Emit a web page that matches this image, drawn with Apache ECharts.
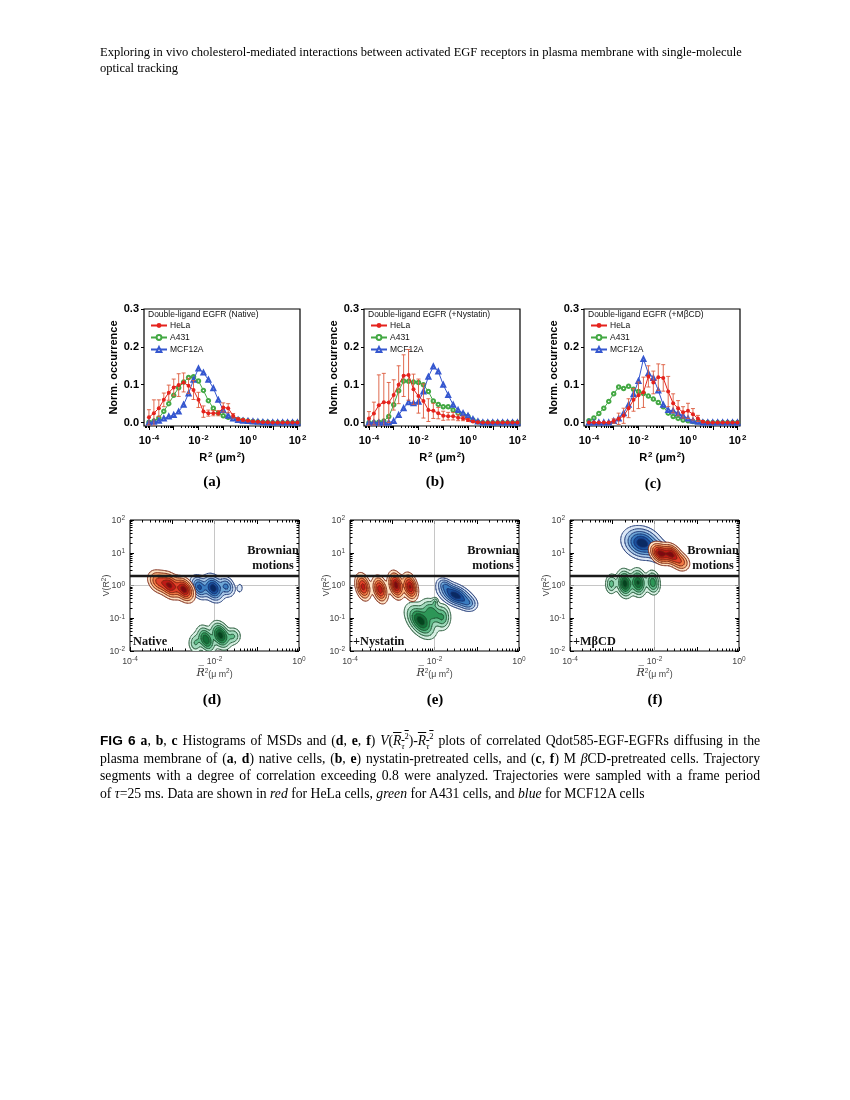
<!DOCTYPE html>
<html>
<head>
<meta charset="utf-8">
<title>FIG 6</title>
<script src="https://cdn.jsdelivr.net/npm/echarts@6.0.0/dist/echarts.min.js"></script>
<style>
  html, body { margin: 0; padding: 0; background: #fff; }
  #page { position: relative; width: 850px; height: 1100px; overflow: hidden; }
  #chart { position: absolute; left: 0; top: 0; width: 850px; height: 1100px; }
  .hdr { position: absolute; left: 100px; top: 44px; font: 12.5px/16px 'Liberation Serif', serif; color: #000; white-space: nowrap; }
  .cap { position: absolute; left: 100px; top: 732px; width: 660px; font: 13.7px/17.6px 'Liberation Serif', serif; color: #000; }
  .cap div { white-space: nowrap; }
  .cap .j { text-align: justify; text-align-last: justify; }
  .cap .l { text-align: left; }
  .ov { text-decoration: overline; }
  .fig { font-family: 'Liberation Sans', sans-serif; font-weight: bold; }
  .cap sub, .cap sup { font-size: 8.5px; line-height: 0; }
</style>
</head>
<body>
<div id="page">
  <div id="chart"></div>
  <div class="hdr">Exploring in vivo cholesterol-mediated interactions between activated EGF receptors in plasma membrane with single-molecule<br>optical tracking</div>
  <div class="cap">
    <div class="j"><span class="fig">FIG 6</span> <b>a</b>, <b>b</b>, <b>c</b> Histograms of MSDs and (<b>d</b>, <b>e</b>, <b>f</b>) <i>V</i>(<span class="ov"><i>R</i><sub><i>τ</i></sub><sup>2</sup></span>)-<span class="ov"><i>R</i><sub><i>τ</i></sub><sup>2</sup></span> plots of correlated Qdot585-EGF-EGFRs diffusing in the</div>
    <div class="j">plasma membrane of (<b>a</b>, <b>d</b>) native cells, (<b>b</b>, <b>e</b>) nystatin-pretreated cells, and (<b>c</b>, <b>f</b>) M <i>β</i>CD-pretreated cells. Trajectory</div>
    <div class="j">segments with a degree of correlation exceeding 0.8 were analyzed. Trajectories were sampled with a frame period</div>
    <div class="l">of <i>τ</i>=25 ms. Data are shown in <i>red</i> for HeLa cells, <i>green</i> for A431 cells, and <i>blue</i> for MCF12A cells</div>
  </div>
</div>
<script>
// log10 of R² (µm²) at the histogram bins
var binLogR2 = [-4.0, -3.8, -3.6, -3.4, -3.2, -3.0, -2.8, -2.6, -2.4, -2.2, -2.0, -1.8, -1.6, -1.4, -1.2, -1.0,
  -0.8, -0.6, -0.4, -0.2, 0.0, 0.2, 0.4, 0.6, 0.8, 1.0, 1.2, 1.4, 1.6, 1.8, 2.0];

// (a) native
var helaNative = [0.014, 0.025, 0.038, 0.06, 0.079, 0.093, 0.099, 0.106, 0.097, 0.086, 0.06, 0.029, 0.025, 0.025, 0.025, 0.04,
  0.038, 0.018, 0.009, 0.007, 0.005, 0.003, 0.002, 0.001, 0.001, 0, 0, 0, 0, 0, 0];
var helaNativeErr = [0.02, 0.035, 0.022, 0.018, 0.02, 0.022, 0.03, 0.025, 0.02, 0.025, 0.02, 0.015, 0.008, 0.007, 0.007, 0.012,
  0.012, 0.006, 0.004, 0.003, 0.002, 0.002, 0.001, 0.001, 0, 0, 0, 0, 0, 0, 0];
var a431Native = [0.001, 0.004, 0.012, 0.03, 0.05, 0.072, 0.092, 0.107, 0.119, 0.121, 0.11, 0.085, 0.058, 0.038, 0.025, 0.018,
  0.014, 0.011, 0.008, 0.006, 0.004, 0.003, 0.002, 0.001, 0.001, 0, 0, 0, 0, 0, 0];
var mcfNative = [0, 0.002, 0.005, 0.011, 0.016, 0.02, 0.029, 0.047, 0.077, 0.113, 0.143, 0.132, 0.113, 0.091, 0.06, 0.033,
  0.018, 0.011, 0.007, 0.005, 0.004, 0.003, 0.002, 0.001, 0, 0, 0, 0, 0, 0, 0];

// (b) nystatin
var helaNystatin = [0.011, 0.024, 0.046, 0.054, 0.053, 0.073, 0.1, 0.124, 0.126, 0.088, 0.07, 0.057, 0.033, 0.031, 0.025, 0.018,
  0.017, 0.017, 0.013, 0.011, 0.007, 0.003, 0.001, 0, 0, 0, 0, 0, 0, 0, 0];
var helaNystatinErr = [0.018, 0.03, 0.08, 0.076, 0.053, 0.04, 0.05, 0.055, 0.067, 0.04, 0.045, 0.045, 0.03, 0.02, 0.015, 0.012,
  0.01, 0.01, 0.008, 0.006, 0.004, 0.002, 0.001, 0, 0, 0, 0, 0, 0, 0, 0];
var a431Nystatin = [0, 0, 0.001, 0.004, 0.016, 0.047, 0.084, 0.11, 0.109, 0.107, 0.106, 0.1, 0.082, 0.057, 0.048, 0.042,
  0.042, 0.033, 0.025, 0.022, 0.016, 0.007, 0.002, 0, 0, 0, 0, 0, 0, 0, 0];
var mcfNystatin = [0, 0, 0, 0, 0, 0.004, 0.02, 0.038, 0.054, 0.051, 0.055, 0.082, 0.121, 0.148, 0.135, 0.1,
  0.073, 0.047, 0.033, 0.025, 0.018, 0.009, 0.003, 0, 0, 0, 0, 0, 0, 0, 0];

// (c) MβCD
var helaMbcd = [0, 0, 0, 0, 0, 0.004, 0.01, 0.018, 0.038, 0.06, 0.072, 0.08, 0.122, 0.106, 0.12, 0.118,
  0.082, 0.051, 0.038, 0.027, 0.031, 0.022, 0.011, 0.002, 0, 0, 0, 0, 0, 0, 0];
var helaMbcdErr = [0, 0, 0, 0, 0, 0.006, 0.015, 0.02, 0.025, 0.03, 0.035, 0.04, 0.028, 0.03, 0.035, 0.035,
  0.04, 0.025, 0.02, 0.015, 0.02, 0.015, 0.008, 0.002, 0, 0, 0, 0, 0, 0, 0];
var a431Mbcd = [0.005, 0.012, 0.024, 0.038, 0.056, 0.076, 0.094, 0.09, 0.096, 0.088, 0.082, 0.077, 0.07, 0.062, 0.053, 0.042,
  0.025, 0.016, 0.011, 0.007, 0.005, 0.003, 0.002, 0.001, 0, 0, 0, 0, 0, 0, 0];
var mcfMbcd = [0, 0, 0, 0, 0, 0.004, 0.011, 0.025, 0.047, 0.075, 0.11, 0.168, 0.13, 0.118, 0.085, 0.047,
  0.033, 0.031, 0.025, 0.018, 0.011, 0.005, 0.002, 0, 0, 0, 0, 0, 0, 0, 0];

var histXLabels = [-4, -2, 0, 2];          // decades labelled on histogram x axes
var histYLabels = [0, 0.1, 0.2, 0.3];
var contXLabels = [-4, -2, 0];             // decades labelled on V(R²)-R² plots
var contYLabels = [-2, -1, 0, 1, 2];
var brownianV = 2;                         // V(R²) above which motion is Brownian
var contourLevels = [0.05, 0.14, 0.28, 0.45, 0.65, 0.85];   // fraction of peak density

// density lobes: [log10 R², log10 V(R²), spread x, spread y, tilt deg, weight]
var helaNativeLobes = [[-3.33, 0.12, 0.11, 0.17, 20, 0.5], [-3.06, 0.0, 0.11, 0.19, 20, 0.9], [-2.72, -0.12, 0.10, 0.18, 20, 1.0]];
var mcfNativeLobes = [[-2.36, -0.05, 0.09, 0.17, 15, 0.7], [-2.03, -0.08, 0.11, 0.19, 15, 1.0], [-1.72, -0.03, 0.09, 0.15, 15, 0.5], [-1.40, -0.08, 0.05, 0.10, 0, 0.09]];
var a431NativeLobes = [[-2.45, -1.75, 0.08, 0.15, 0, 0.3], [-2.20, -1.65, 0.09, 0.19, 15, 0.85], [-1.86, -1.52, 0.10, 0.19, 15, 1.0], [-1.56, -1.55, 0.09, 0.13, 0, 0.3]];

var helaNystatinLobes = [[-3.69, -0.04, 0.08, 0.19, 10, 0.75], [-3.29, -0.12, 0.08, 0.19, 10, 0.8], [-2.91, 0.01, 0.08, 0.19, 10, 1.0], [-2.58, -0.04, 0.08, 0.19, 10, 0.9]];
var a431NystatinLobes = [[-2.33, -1.08, 0.13, 0.25, 25, 1.0], [-2.06, -0.82, 0.12, 0.2, 20, 0.6], [-1.80, -0.97, 0.09, 0.19, 0, 0.4], [-1.99, -0.50, 0.04, 0.07, 0, 0.25]];
var mcfNystatinLobes = [[-1.50, -0.30, 0.13, 0.22, 50, 1.0], [-1.75, 0.0, 0.08, 0.12, 30, 0.35], [-1.20, -0.55, 0.10, 0.12, 30, 0.3]];

var a431MbcdLobes = [[-3.02, 0.05, 0.07, 0.15, 0, 0.35], [-2.70, 0.06, 0.09, 0.19, 5, 1.0], [-2.39, 0.09, 0.09, 0.19, 5, 0.9], [-2.04, 0.09, 0.08, 0.17, 5, 0.6]];
var mcfMbcdLobes = [[-2.30, 1.30, 0.19, 0.23, 35, 1.0], [-1.88, 1.02, 0.12, 0.17, 30, 0.8]];
var helaMbcdLobes = [[-1.87, 0.98, 0.10, 0.16, 25, 1.0], [-1.60, 0.95, 0.10, 0.16, 25, 0.95], [-1.38, 0.72, 0.10, 0.14, 20, 0.4]];

var SANS = 'Liberation Sans', SERIF = 'Liberation Serif';
var RED = '#e5231d', GREEN = '#43a843', BLUE = '#3557cf', ERR = '#dc5a3c';
var redFill = ['#fde0c2', '#f9b07a', '#f27a45', '#e2432a', '#bf1a17', '#7e0810'];
var blueFill = ['#dce8f6', '#a9c9e8', '#6ea6d6', '#3a7cc0', '#1a519d', '#0a2a63'];
var greenFill = ['#d6efe2', '#a2dabd', '#62bd8b', '#2d9657', '#137139', '#04441e'];

var histRich = {
  b: {fontSize: 11, fontWeight: 'bold', fontFamily: SANS, color: '#000', lineHeight: 12, verticalAlign: 'bottom'},
  s: {fontSize: 8, fontWeight: 'bold', fontFamily: SANS, color: '#000', lineHeight: 8, verticalAlign: 'top', padding: [0, 0, 5, 1]}
};
var contRich = {
  b: {fontSize: 8.8, fontFamily: SANS, color: '#444', lineHeight: 10, verticalAlign: 'bottom'},
  s: {fontSize: 6.5, fontFamily: SANS, color: '#444', lineHeight: 7, verticalAlign: 'top', padding: [0, 0, 4, 0]},
  r: {fontSize: 11, fontStyle: 'italic', fontFamily: 'DejaVu Serif', color: '#333', lineHeight: 11, verticalAlign: 'bottom'}
};

function decadeTicks(lo, hi) {
  var out = [];
  for (var d = Math.ceil(lo); d <= Math.floor(hi); d++) out.push(d);
  return out;
}
function minorTicks(lo, hi) {
  var out = [];
  for (var d = Math.floor(lo); d < Math.ceil(hi); d++) {
    for (var k = 2; k <= 9; k++) {
      var v = d + Math.log10(k);
      if (v > lo && v < hi) out.push(v);
    }
  }
  return out;
}
function powLabel(v) {
  return '{b|10}{s|' + Math.round(v) + '}';
}
function edgeAxis(g, pos, lo, hi, ticks, len, inside, extra) {
  var a = {
    gridIndex: g, type: 'value', position: pos, min: lo, max: hi,
    axisLine: {show: false, onZero: false},
    axisTick: {show: true, inside: inside, length: len, customValues: ticks, lineStyle: {color: '#000', width: 1}},
    axisLabel: {show: false},
    splitLine: {show: false}
  };
  for (var k in extra) a[k] = extra[k];
  return a;
}

var grid = [], xAxis = [], yAxis = [], series = [], legend = [], graphic = [];

function addHist(p, hela, err, a431, mcf, tag) {
  var left = 144 + 220 * p;
  var g = grid.length;
  grid.push({left: left, top: 309, width: 156, height: 117, show: true, borderColor: '#000', borderWidth: 1.2});
  var xi = xAxis.length;
  xAxis.push(edgeAxis(g, 'bottom', -4.2, 2.1, decadeTicks(-4.2, 2.1), 4, false, {
    axisLabel: {show: true, customValues: histXLabels, margin: 8, formatter: powLabel, rich: histRich},
    name: '{b|R}{s|2}{b| (μm}{s|2}{b|)}', nameLocation: 'middle', nameGap: 25,
    nameTextStyle: {fontSize: 11, fontWeight: 'bold', fontFamily: SANS, color: '#000', rich: histRich}
  }));
  xAxis.push(edgeAxis(g, 'bottom', -4.2, 2.1, minorTicks(-4.2, 2.1), 2, false));
  var yi = yAxis.length;
  yAxis.push(edgeAxis(g, 'left', -0.009, 0.3, histYLabels, 3, false, {
    axisLabel: {show: true, customValues: histYLabels, margin: 5, formatter: function (v) { return v.toFixed(1); },
      fontSize: 11, fontWeight: 'bold', fontFamily: SANS, color: '#000'},
    name: 'Norm. occurrence', nameLocation: 'middle', nameGap: 25,
    nameTextStyle: {fontSize: 11, fontWeight: 'bold', fontFamily: SANS, color: '#000'}
  }));
  function pts(vals) { return binLogR2.map(function (x, i) { return [x, vals[i]]; }); }
  series.push({type: 'line', name: 'A431', xAxisIndex: xi, yAxisIndex: yi, z: 2, data: pts(a431),
    symbol: 'emptyCircle', symbolSize: 3.5, lineStyle: {color: GREEN, width: 1}, itemStyle: {color: GREEN, borderWidth: 0.8}});
  series.push({type: 'line', name: 'MCF12A', xAxisIndex: xi, yAxisIndex: yi, z: 3, data: pts(mcf),
    symbol: 'emptyTriangle', symbolSize: 4, lineStyle: {color: BLUE, width: 1}, itemStyle: {color: BLUE, borderWidth: 0.8}});
  series.push({type: 'custom', name: 'HeLa s.d.', xAxisIndex: xi, yAxisIndex: yi, z: 4, clip: true,
    data: binLogR2.map(function (x, i) { return [x, hela[i], err[i]]; }),
    renderItem: function (params, api) {
      var e = api.value(2);
      if (!e) return null;
      var x = api.value(0), y = api.value(1);
      var a = api.coord([x, y + e]), b = api.coord([x, y - e]);
      var st = {stroke: ERR, lineWidth: 0.9};
      return {type: 'group', children: [
        {type: 'line', shape: {x1: a[0], y1: a[1], x2: b[0], y2: b[1]}, style: st},
        {type: 'line', shape: {x1: a[0] - 2, y1: a[1], x2: a[0] + 2, y2: a[1]}, style: st},
        {type: 'line', shape: {x1: b[0] - 2, y1: b[1], x2: b[0] + 2, y2: b[1]}, style: st}
      ]};
    }});
  series.push({type: 'line', name: 'HeLa', xAxisIndex: xi, yAxisIndex: yi, z: 5, data: pts(hela),
    symbol: 'circle', symbolSize: 4, lineStyle: {color: RED, width: 1}, itemStyle: {color: RED}});
  legend.push({left: 150 + 220 * p, top: 321, orient: 'vertical', itemGap: 3, itemWidth: 16, itemHeight: 6,
    padding: 0, selectedMode: false, data: ['HeLa', 'A431', 'MCF12A'],
    textStyle: {fontSize: 8.5, fontFamily: SANS, color: '#111', padding: [0, 0, 0, -2]}});
  graphic.push({type: 'text', x: left + 4, y: 315, z: 20, style: {text: 'Double-ligand EGFR ' + tag,
    fontSize: 8.5, fontFamily: SANS, fill: '#111', verticalAlign: 'middle', textVerticalAlign: 'middle'}});
}

// filled contours of the summed lobe density (marching triangles), drawn once per family
function densityRender(fills, edge, blend) {
  function fmt(p) { return p[0].toFixed(2) + ' ' + p[1].toFixed(2); }
  return function (params, api) {
    if (params.dataIndexInside !== 0) return null;
    var lobes = [];
    for (var i = 0; i < params.dataInsideLength; i++) {
      var row = [];
      for (var d = 0; d < 6; d++) row.push(api.value(d, i));
      lobes.push(row);
    }
    var x0 = Infinity, x1 = -Infinity, y0 = Infinity, y1 = -Infinity;
    lobes.forEach(function (L) {
      var r = 3.3 * Math.max(L[2], L[3]);
      x0 = Math.min(x0, L[0] - r); x1 = Math.max(x1, L[0] + r);
      y0 = Math.min(y0, L[1] - r); y1 = Math.max(y1, L[1] + r);
    });
    x0 = Math.max(x0, -4); x1 = Math.min(x1, 0); y0 = Math.max(y0, -2); y1 = Math.min(y1, 2);
    var dx = 0.033, dy = 0.043;
    var nx = Math.ceil((x1 - x0) / dx), ny = Math.ceil((y1 - y0) / dy), W = nx + 1;
    var val = [], pos = [], vmax = 0;
    for (var j = 0; j <= ny; j++) {
      for (var i2 = 0; i2 <= nx; i2++) {
        var x = x0 + i2 * dx, y = y0 + j * dy, f = 0;
        for (var m = 0; m < lobes.length; m++) {
          var L = lobes[m], a = L[4] * Math.PI / 180, ex = x - L[0], ey = y - L[1];
          var u = (ex * Math.cos(a) + ey * Math.sin(a)) / L[2];
          var v = (-ex * Math.sin(a) + ey * Math.cos(a)) / L[3];
          f += L[5] * Math.exp(-0.5 * (u * u + v * v));
        }
        val.push(f);
        pos.push(api.coord([x, y]));
        if (f > vmax) vmax = f;
      }
    }
    var fillD = contourLevels.map(function () { return []; });
    var lineD = contourLevels.map(function () { return []; });
    function tri(ia, ib, ic) {
      var vs = [val[ia], val[ib], val[ic]], ps = [pos[ia], pos[ib], pos[ic]];
      var hi = Math.max(vs[0], vs[1], vs[2]);
      for (var k = 0; k < contourLevels.length; k++) {
        var lev = contourLevels[k] * vmax;
        if (hi < lev) break;
        var poly = [], cut = [];
        for (var e = 0; e < 3; e++) {
          var pa = ps[e], pb = ps[(e + 1) % 3], va = vs[e], vb = vs[(e + 1) % 3];
          if (va >= lev) poly.push(pa);
          if ((va >= lev) !== (vb >= lev)) {
            var t = (lev - va) / (vb - va);
            var q = [pa[0] + t * (pb[0] - pa[0]), pa[1] + t * (pb[1] - pa[1])];
            poly.push(q);
            cut.push(q);
          }
        }
        if (poly.length >= 3) fillD[k].push('M' + poly.map(fmt).join('L') + 'Z');
        if (cut.length === 2) lineD[k].push('M' + fmt(cut[0]) + 'L' + fmt(cut[1]));
      }
    }
    for (var jj = 0; jj < ny; jj++) {
      for (var ii = 0; ii < nx; ii++) {
        var p00 = jj * W + ii, p10 = p00 + 1, p01 = p00 + W, p11 = p01 + 1;
        tri(p00, p10, p11);
        tri(p00, p11, p01);
      }
    }
    var kids = [];
    for (var k = 0; k < contourLevels.length; k++) {
      if (fillD[k].length) {
        kids.push({type: 'path', shape: {pathData: fillD[k].join('')},
          style: {fill: fills[k], stroke: null, blend: blend}});
      }
    }
    for (var k2 = 0; k2 < contourLevels.length; k2++) {
      if (lineD[k2].length) {
        kids.push({type: 'path', shape: {pathData: lineD[k2].join('')},
          style: {fill: null, stroke: edge, lineWidth: 0.6, lineCap: 'round', opacity: 0.85, blend: blend}});
      }
    }
    return {type: 'group', children: kids};
  };
}

function addContour(p, red, green, blue, label, overlap) {
  var left = 130 + 220 * p;
  var g = grid.length;
  grid.push({left: left, top: 520, width: 169, height: 131, show: true, borderColor: '#000', borderWidth: 1});
  var xi = xAxis.length;
  xAxis.push(edgeAxis(g, 'bottom', -4, 0, decadeTicks(-4, 0), 4, true, {
    axisLabel: {show: true, customValues: contXLabels, margin: 5, formatter: powLabel, rich: contRich},
    name: '{r|R\u0305}{s|2}{b|(μ m}{s|2}{b|)}', nameLocation: 'middle', nameGap: 14,
    nameTextStyle: {fontSize: 9.5, fontFamily: SANS, color: '#444', rich: contRich}
  }));
  xAxis.push(edgeAxis(g, 'bottom', -4, 0, minorTicks(-4, 0), 2.5, true));
  xAxis.push(edgeAxis(g, 'top', -4, 0, decadeTicks(-4, 0), 4, true));
  xAxis.push(edgeAxis(g, 'top', -4, 0, minorTicks(-4, 0), 2.5, true));
  var yi = yAxis.length;
  yAxis.push(edgeAxis(g, 'left', -2, 2, decadeTicks(-2, 2), 4, true, {
    axisLabel: {show: true, customValues: contYLabels, margin: 5, formatter: powLabel, rich: contRich},
    name: '{b|V(R}{s|2}{b|)}', nameLocation: 'middle', nameGap: 19, nameMoveOverlap: false,
    nameTextStyle: {fontSize: 9.5, fontFamily: SANS, color: '#444', rich: contRich}
  }));
  yAxis.push(edgeAxis(g, 'left', -2, 2, minorTicks(-2, 2), 2.5, true));
  yAxis.push(edgeAxis(g, 'right', -2, 2, decadeTicks(-2, 2), 4, true));
  yAxis.push(edgeAxis(g, 'right', -2, 2, minorTicks(-2, 2), 2.5, true));

  var fams = [
    {name: 'MCF12A', lobes: blue, fills: blueFill, edge: '#16306e', z: 3, blend: null},
    {name: 'A431', lobes: green, fills: greenFill, edge: '#1b5230', z: 3, blend: null},
    {name: 'HeLa', lobes: red, fills: redFill, edge: '#7a2410', z: 4, blend: overlap ? 'multiply' : null}
  ];
  fams.forEach(function (f, i) {
    var s = {type: 'custom', name: f.name + ' density', xAxisIndex: xi, yAxisIndex: yi, z: f.z, clip: true,
      data: f.lobes, renderItem: densityRender(f.fills, f.edge, f.blend)};
    if (i === 0) {
      s.markLine = {silent: true, z: 1, symbol: ['none', 'none'], label: {show: false},
        lineStyle: {color: '#b8b8b8', width: 0.8, type: 'solid'}, data: [{xAxis: -2}, {yAxis: 0}]};
    }
    if (i === 2) {
      s.markLine = {silent: true, z: 8, symbol: ['none', 'none'], label: {show: false},
        lineStyle: {color: '#1a1a1a', width: 2.3, type: 'solid'}, data: [{yAxis: Math.log10(brownianV)}]};
    }
    series.push(s);
  });

  graphic.push({type: 'text', x: 273 + 220 * p, y: 543, z: 20, style: {text: 'Brownian\nmotions',
    fontSize: 12.3, fontWeight: 'bold', fontFamily: SERIF, fill: '#111', lineHeight: 15,
    align: 'center', textAlign: 'center', verticalAlign: 'top', textVerticalAlign: 'top'}});
  graphic.push({type: 'text', x: left + 3, y: 642, z: 20, style: {text: label,
    fontSize: 12.3, fontWeight: 'bold', fontFamily: SERIF, fill: '#111',
    verticalAlign: 'middle', textVerticalAlign: 'middle'}});
}

addHist(0, helaNative, helaNativeErr, a431Native, mcfNative, '(Native)');
addHist(1, helaNystatin, helaNystatinErr, a431Nystatin, mcfNystatin, '(+Nystatin)');
addHist(2, helaMbcd, helaMbcdErr, a431Mbcd, mcfMbcd, '(+MβCD)');
addContour(0, helaNativeLobes, a431NativeLobes, mcfNativeLobes, 'Native', false);
addContour(1, helaNystatinLobes, a431NystatinLobes, mcfNystatinLobes, '+Nystatin', false);
addContour(2, helaMbcdLobes, a431MbcdLobes, mcfMbcdLobes, '+MβCD', true);

var panelTags = [['(a)', 212, 482], ['(b)', 435, 482], ['(c)', 653, 484], ['(d)', 212, 700], ['(e)', 435, 700], ['(f)', 655, 700]];
panelTags.forEach(function (t) {
  graphic.push({type: 'text', x: t[1], y: t[2], z: 20, style: {text: t[0], fontSize: 15, fontWeight: 'bold',
    fontFamily: SERIF, fill: '#000', align: 'center', textAlign: 'center', verticalAlign: 'middle', textVerticalAlign: 'middle'}});
});

var chart = echarts.init(document.getElementById('chart'));
chart.setOption({
  animation: false,
  backgroundColor: 'transparent',
  textStyle: {fontFamily: SANS},
  grid: grid,
  xAxis: xAxis,
  yAxis: yAxis,
  legend: legend,
  graphic: graphic,
  series: series
});
</script>
</body>
</html>
